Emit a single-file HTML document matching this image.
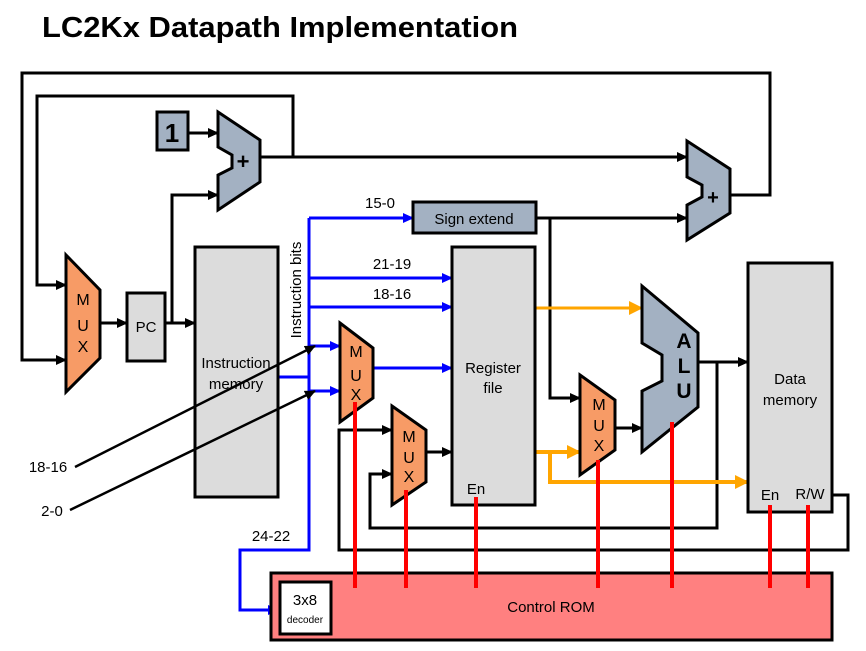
<!DOCTYPE html>
<html><head><meta charset="utf-8"><style>
html,body{margin:0;padding:0;background:#fff;}
svg{display:block;font-family:"Liberation Sans",sans-serif;}
</style></head><body>
<svg width="866" height="651" viewBox="0 0 866 651" xmlns="http://www.w3.org/2000/svg">
<defs>
<marker id="ab" markerWidth="11" markerHeight="10" refX="10" refY="5" orient="auto" markerUnits="userSpaceOnUse"><path d="M0,0 L11,5 L0,10 z" fill="#000"/></marker>
<marker id="au" markerWidth="11" markerHeight="10" refX="10" refY="5" orient="auto" markerUnits="userSpaceOnUse"><path d="M0,0 L11,5 L0,10 z" fill="#0000ff"/></marker>
<marker id="ao" markerWidth="14" markerHeight="14" refX="13" refY="7" orient="auto" markerUnits="userSpaceOnUse"><path d="M0,0 L14,7 L0,14 z" fill="#ffa500"/></marker>
</defs>
<text x="42" y="37" font-size="29" font-weight="bold" textLength="476" lengthAdjust="spacingAndGlyphs">LC2Kx Datapath Implementation</text>

<g fill="none" stroke="#000" stroke-width="3">
<polyline points="730,195 770,195 770,73 22,73 22,360 66,360" marker-end="url(#ab)"/>
<polyline points="293,157 293,96 37,96 37,285 66,285" marker-end="url(#ab)"/>
<polyline points="188,133 218,133" marker-end="url(#ab)"/>
<polyline points="172,323 172,195 218,195" marker-end="url(#ab)"/>
<polyline points="260,157 687,157" marker-end="url(#ab)"/>
<polyline points="100,323 127,323" marker-end="url(#ab)"/>
<polyline points="165,323 195,323" marker-end="url(#ab)"/>
<polyline points="536,218 687,218" marker-end="url(#ab)"/>
<polyline points="550,218 550,398 580,398" marker-end="url(#ab)"/>
<polyline points="615,428 642,428" marker-end="url(#ab)"/>
<polyline points="698,362 748,362" marker-end="url(#ab)"/>
<polyline points="717,362 717,528 370,528 370,474 392,474" marker-end="url(#ab)"/>
<polyline points="832,495 848,495 848,550 339,550 339,430 392,430" marker-end="url(#ab)"/>
<polyline points="426,452 452,452" marker-end="url(#ab)"/>
</g>

<g fill="none" stroke="#0000ff" stroke-width="3">
<polyline points="278,377 309,377"/>
<polyline points="309,218 309,550 240,550 240,610 278,610" marker-end="url(#au)"/>
<polyline points="309,218 413,218" marker-end="url(#au)"/>
<polyline points="309,278 452,278" marker-end="url(#au)"/>
<polyline points="309,307 452,307" marker-end="url(#au)"/>
<polyline points="309,346 340,346" marker-end="url(#au)"/>
<polyline points="309,391 340,391" marker-end="url(#au)"/>
<polyline points="373,368 452,368" marker-end="url(#au)"/>
</g>

<g fill="none" stroke="#ffa500">
<polyline points="535,308 642,308" stroke-width="3" marker-end="url(#ao)"/>
<polyline points="535,452 580,452" stroke-width="4" marker-end="url(#ao)"/>
<polyline points="550,452 550,482 748,482" stroke-width="4" marker-end="url(#ao)"/>
</g>

<g stroke="#000" stroke-width="3">
<rect x="157" y="112" width="31" height="38" fill="#a3b1c2"/>
<polygon points="218,112 260,140 260,182 218,210 218,175 232,168 232,155 218,147" fill="#a3b1c2"/>
<polygon points="687,141 730,169 730,213 687,240 687,205 702,197 702,185 687,177" fill="#a3b1c2"/>
<polygon points="66,255 100,290 100,358 66,392" fill="#f79b66"/>
<rect x="127" y="293" width="38" height="68" fill="#dcdcdc"/>
<rect x="195" y="247" width="83" height="250" fill="#dcdcdc"/>
<rect x="413" y="202" width="123" height="31" fill="#a3b1c2"/>
<rect x="452" y="247" width="83" height="258" fill="#dcdcdc"/>
<polygon points="340,323 373,348 373,398 340,422" fill="#f79b66"/>
<polygon points="392,406 426,430 426,482 392,505" fill="#f79b66"/>
<polygon points="580,375 615,400 615,450 580,475" fill="#f79b66"/>
<polygon points="642,286 698,333 698,407 642,452 642,391 662,381 662,355 642,343" fill="#a3b1c2"/>
<rect x="748" y="263" width="84" height="249" fill="#dcdcdc"/>
<rect x="271" y="573" width="561" height="67" fill="#ff8080"/>
<rect x="280" y="582" width="51" height="52" fill="#fff"/>
</g>

<g fill="none" stroke="#000" stroke-width="2.5">
<polyline points="75,467 315,346" marker-end="url(#ab)"/>
<polyline points="70,510 315,391" marker-end="url(#ab)"/>
</g>

<g stroke="#ff0000" stroke-width="4">
<line x1="355" y1="402" x2="355" y2="588"/>
<line x1="406" y1="490" x2="406" y2="588"/>
<line x1="476" y1="497" x2="476" y2="588"/>
<line x1="598" y1="460" x2="598" y2="588"/>
<line x1="672" y1="422" x2="672" y2="588"/>
<line x1="770" y1="505" x2="770" y2="588"/>
<line x1="808" y1="505" x2="808" y2="588"/>
</g>

<g font-size="15" fill="#000" text-anchor="middle">
<text x="172" y="142" font-size="26" font-weight="bold">1</text>
<text x="243" y="169" font-size="22" font-weight="bold">+</text>
<text x="713" y="204" font-size="20" font-weight="bold">+</text>
<text x="83" y="305" font-size="16">M</text>
<text x="83" y="331" font-size="16">U</text>
<text x="83" y="352" font-size="16">X</text>
<text x="146" y="332">PC</text>
<text x="236" y="368">Instruction</text>
<text x="236" y="389">memory</text>
<text x="474" y="224">Sign extend</text>
<text x="493" y="373">Register</text>
<text x="493" y="393">file</text>
<text x="476" y="494">En</text>
<text x="356" y="357" font-size="16">M</text>
<text x="356" y="381" font-size="16">U</text>
<text x="356" y="400" font-size="16">X</text>
<text x="409" y="442" font-size="16">M</text>
<text x="409" y="463" font-size="16">U</text>
<text x="409" y="482" font-size="16">X</text>
<text x="599" y="410" font-size="16">M</text>
<text x="599" y="431" font-size="16">U</text>
<text x="599" y="451" font-size="16">X</text>
<text x="684" y="348" font-size="21" font-weight="bold">A</text>
<text x="684" y="373" font-size="21" font-weight="bold">L</text>
<text x="684" y="398" font-size="21" font-weight="bold">U</text>
<text x="790" y="384">Data</text>
<text x="790" y="405">memory</text>
<text x="770" y="500">En</text>
<text x="810" y="499">R/W</text>
<text x="551" y="612">Control ROM</text>
<text x="305" y="605">3x8</text>
<text x="305" y="623" font-size="10">decoder</text>
<text x="380" y="208">15-0</text>
<text x="392" y="269">21-19</text>
<text x="392" y="299">18-16</text>
<text x="271" y="541">24-22</text>
<text x="48" y="472">18-16</text>
<text x="52" y="516">2-0</text>
<text transform="translate(301,290) rotate(-90)" x="0" y="0">Instruction bits</text>
</g>
</svg>
</body></html>
